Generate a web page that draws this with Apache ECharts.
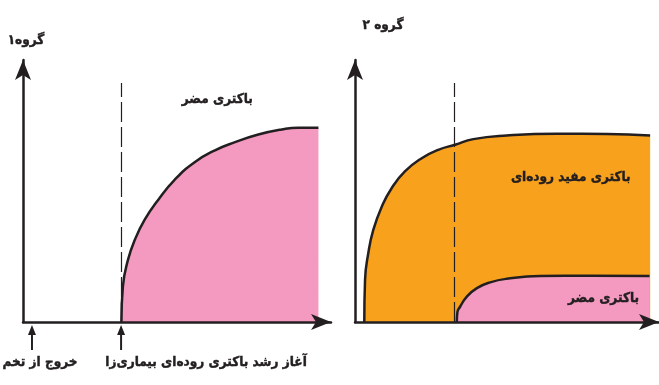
<!DOCTYPE html>
<html>
<head>
<meta charset="utf-8">
<script src="https://cdn.jsdelivr.net/npm/echarts@6/dist/echarts.min.js"></script>
<style>
  html, body { margin: 0; padding: 0; background: #fff; }
  #main { width: 659px; height: 385px; }
</style>
</head>
<body>
<div id="main"></div>
<script>
// گروه ۱ : فقط باکتری مضر
const harmful1X = [32.9, 33.4, 35.1, 37.4, 40.7, 45.2, 50.7, 57.4, 64.2, 70.9, 78.7, 86.5, 92.1, 98.8];
const harmful1Y = [0, 13.9, 24.4, 32.3, 40.2, 48.0, 55.9, 62.8, 67.5, 70.7, 73.7, 75.7, 76.4, 76.4];

// گروه ۲ : باکتری مفید روده‌ای + باکتری مضر
const goodX = [3.15, 3.4, 4.5, 6.2, 9.1, 12.4, 16.9, 22.6, 28.2, 33.9, 40.1, 51.4, 68.4, 85.3, 100];
const goodY = [0, 16.5, 27.0, 36.2, 45.4, 52.6, 59.2, 64.4, 67.7, 69.7, 71.9, 73.3, 74.0, 73.9, 73.3];
const harmful2X = [34.5, 34.7, 35.6, 37.9, 41.3, 45.8, 51.4, 62.7, 79.7, 99.8];
const harmful2Y = [0, 3.9, 6.0, 10.0, 13.3, 15.6, 17.0, 18.1, 18.2, 18.1];

// events on the time axis
const hatchX = 3;
const startX1 = 32.8;
const startX2 = 33.7;
const dashTop = 94;

const titles = ['گروه۱', 'گروه ۲'];
const seriesNames = ['باکتری مضر', 'باکتری مفید روده‌ای'];
const eventLabels = ['خروج از تخم', 'آغاز رشد باکتری روده‌ای بیماری‌زا'];

const ink = '#231f20';
const pink = '#f49ac1';
const orange = '#f8a11d';
const font = '"DejaVu Sans Condensed", "DejaVu Sans", sans-serif';

const zip = (xs, ys) => xs.map((x, i) => [x, ys[i]]);

const chart = echarts.init(document.getElementById('main'));

function axis(gi) {
  return {
    type: 'value', gridIndex: gi, min: 0, max: 103, z: 5,
    axisLine: { show: true, lineStyle: { color: ink, width: 2.5 }, symbol: ['none', 'arrow'], symbolSize: [12, 20] },
    axisTick: { show: false }, axisLabel: { show: false }, splitLine: { show: false }
  };
}
function dashed(x) {
  return {
    symbol: 'none', silent: true, animation: false,
    label: { show: false },
    lineStyle: { color: ink, width: 1.2, type: [20, 5] },
    data: [[{ coord: [x, 0] }, { coord: [x, dashTop] }]]
  };
}
function curve(name, gi, xs, ys, color, extra) {
  return Object.assign({
    name: name, type: 'line', xAxisIndex: gi, yAxisIndex: gi,
    data: zip(xs, ys), smooth: 0.5, showSymbol: false,
    lineStyle: { color: ink, width: 2.5 }, areaStyle: { color: color, opacity: 1 }
  }, extra || {});
}

chart.setOption({
  animation: false,
  grid: [
    { left: 23, top: 60, width: 308, height: 262 },
    { left: 355, top: 60, width: 304, height: 262 }
  ],
  xAxis: [axis(0), axis(1)],
  yAxis: [axis(0), axis(1)],
  series: [
    curve(seriesNames[0], 0, harmful1X, harmful1Y, pink, { markLine: dashed(startX1) }),
    curve(seriesNames[1], 1, goodX, goodY, orange, { markLine: dashed(startX2) }),
    curve(seriesNames[0], 1, harmful2X, harmful2Y, pink)
  ]
});

// annotations placed through the axes' own scales
const px = (g, x, y) => chart.convertToPixel({ gridIndex: g }, [x, y]);
const graphics = [];
function text(pos, str, size) {
  graphics.push({
    type: 'text', x: pos[0], y: pos[1], z: 10,
    style: {
      text: str, fill: ink, stroke: ink, lineWidth: 0.4,
      font: 'bold ' + size + 'px ' + font, align: 'center', verticalAlign: 'middle'
    }
  });
}
function upArrow(x) {
  const p = px(0, x, 0);
  graphics.push({ type: 'line', z: 10, shape: { x1: p[0], y1: p[1] + 28, x2: p[0], y2: p[1] + 10 }, style: { stroke: ink, lineWidth: 2 } });
  graphics.push({ type: 'polygon', z: 10, shape: { points: [[p[0], p[1] + 3], [p[0] - 4, p[1] + 13], [p[0] + 4, p[1] + 13]] }, style: { fill: ink } });
}
upArrow(hatchX);
upArrow(startX1);

const a1 = px(0, hatchX, 0), a2 = px(0, startX1, 0);
text([a1[0] + 8, a1[1] + 40], eventLabels[0], 13.5);
text([a2[0] + 85, a2[1] + 40], eventLabels[1], 13.5);

text(px(0, 65, 87.4), seriesNames[0], 13.5);
text(px(1, 73.1, 56.7), seriesNames[1], 13.5);
text(px(1, 84.2, 9.4), seriesNames[0], 13.5);

text([26, 40], titles[0], 13.5);
text([383, 25], titles[1], 13.5);

chart.setOption({ graphic: graphics });
</script>
</body>
</html>
